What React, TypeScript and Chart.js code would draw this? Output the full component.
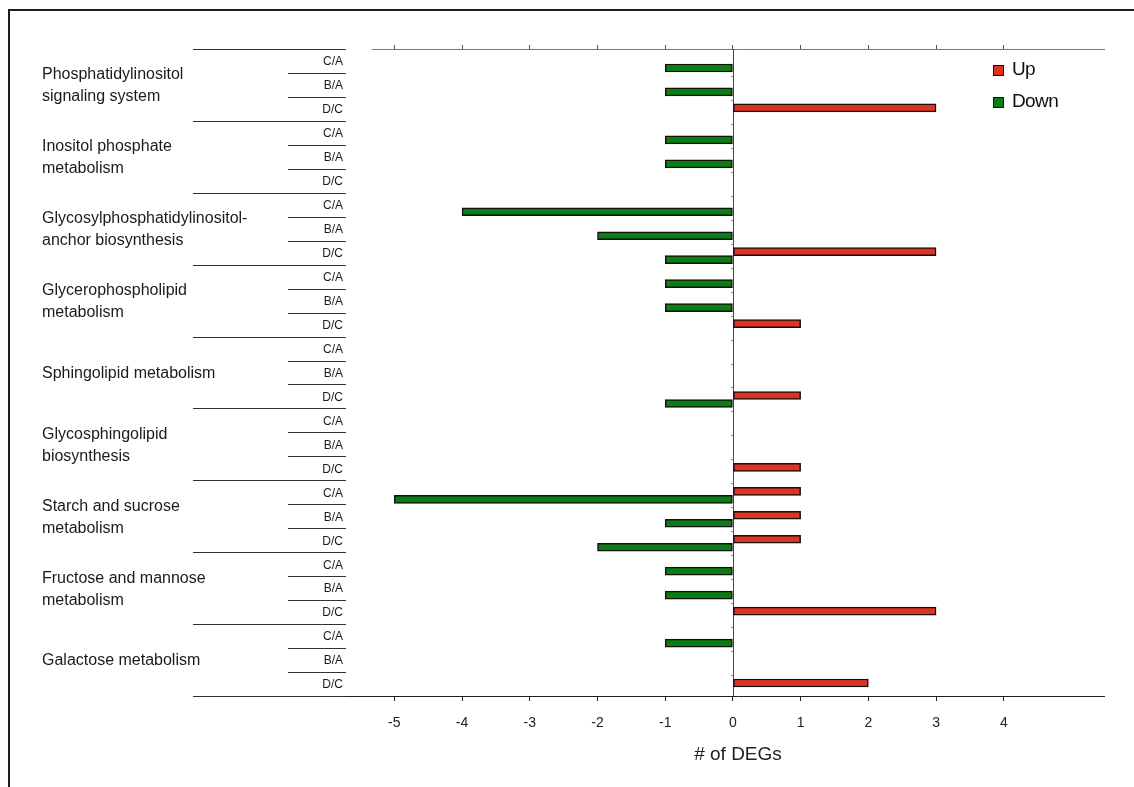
import { useEffect, useRef } from 'react';
import { Chart, registerables } from 'chart.js';

Chart.register(...registerables);

const pathways: string[][] = [
  ['Phosphatidylinositol', 'signaling system'],
  ['Inositol phosphate', 'metabolism'],
  ['Glycosylphosphatidylinositol-', 'anchor biosynthesis'],
  ['Glycerophospholipid', 'metabolism'],
  ['Sphingolipid metabolism'],
  ['Glycosphingolipid', 'biosynthesis'],
  ['Starch and sucrose', 'metabolism'],
  ['Fructose and mannose', 'metabolism'],
  ['Galactose metabolism'],
];
const comparisons = ['C/A', 'B/A', 'D/C'];
const upValues = [0, 0, 3, 0, 0, 0, 0, 0, 3, 0, 0, 1, 0, 0, 1, 0, 0, 1, 1, 1, 1, 0, 0, 3, 0, 0, 2];
const downValues = [-1, -1, 0, -1, -1, 0, -4, -2, -1, -1, -1, 0, 0, 0, -1, 0, 0, 0, -5, -1, -2, -1, -1, 0, -1, 0, 0];
const xTicks = [-5, -4, -3, -2, -1, 0, 1, 2, 3, 4];
const legendItems = ['Up', 'Down'];

const X_MIN = -5.33;
const X_MAX = 5.48;
const FONT = "'Liberation Sans', Arial, sans-serif";
const RED = '#e2311f';
const GREEN = '#0a7e12';
const BAR_SHIFT = 3;

const rowLabels = pathways.flatMap((_, gi) => comparisons.map((c) => `${gi}|${c}`));

const decorPlugin = {
  id: 'decor',
  beforeDatasetsDraw(chart: any) {
    const { ctx, chartArea, scales } = chart;
    const x0 = scales.x.getPixelForValue(0);
    const n = rowLabels.length;
    const step = (chartArea.bottom - chartArea.top) / n;
    ctx.save();
    ctx.strokeStyle = '#444';
    ctx.lineWidth = 1;
    ctx.beginPath();
    ctx.moveTo(Math.round(x0) + 0.5, chartArea.top);
    ctx.lineTo(Math.round(x0) + 0.5, chartArea.bottom);
    ctx.stroke();
    ctx.strokeStyle = '#888';
    for (let i = 1; i < n; i++) {
      const yy = Math.round(chartArea.top + i * step + BAR_SHIFT) + 0.5;
      ctx.beginPath();
      ctx.moveTo(Math.round(x0) - 2, yy);
      ctx.lineTo(Math.round(x0) + 0.5, yy);
      ctx.stroke();
    }
    ctx.restore();
    ctx.save();
    ctx.translate(0, BAR_SHIFT);
  },
  afterDatasetsDraw(chart: any) {
    chart.ctx.restore();
  },
  afterDraw(chart: any) {
    const { ctx, chartArea, scales } = chart;
    const yScale = scales.y;
    const n = rowLabels.length;
    const step = (chartArea.bottom - chartArea.top) / n;
    ctx.save();
    // frame
    ctx.fillStyle = '#1e1e1e';
    ctx.fillRect(8, 9, 2, chart.height - 9);
    ctx.fillRect(8, 9, chart.width - 8, 2);

    // row separator lines
    ctx.strokeStyle = '#333';
    ctx.lineWidth = 1.2;
    for (let i = 0; i <= n; i++) {
      const yy = Math.round(chartArea.top + i * step) + 0.5;
      const isGroup = i % 3 === 0;
      ctx.beginPath();
      ctx.moveTo(isGroup ? 193 : 288, yy);
      ctx.lineTo(346, yy);
      ctx.stroke();
    }
    // bottom axis extension
    const by = Math.round(chartArea.bottom) + 0.5;
    ctx.strokeStyle = '#222';
    ctx.lineWidth = 1;
    ctx.beginPath();
    ctx.moveTo(346, by);
    ctx.lineTo(chartArea.left, by);
    ctx.stroke();

    ctx.fillStyle = '#1a1a1a';
    ctx.font = `12px ${FONT}`;
    ctx.textAlign = 'right';
    ctx.textBaseline = 'middle';
    rowLabels.forEach((lab, i) => {
      const yc = yScale.getPixelForValue(i);
      ctx.fillText(lab.split('|')[1], 343, yc + 1);
    });

    ctx.font = `16px ${FONT}`;
    ctx.textAlign = 'left';
    pathways.forEach((lines, gi) => {
      const yc = yScale.getPixelForValue(gi * 3 + 1);
      const lh = 22;
      lines.forEach((t, li) => {
        const yy = yc + (li - (lines.length - 1) / 2) * lh + 1;
        ctx.fillText(t, 42, yy);
      });
    });

    // legend
    const colors = [RED, GREEN];
    legendItems.forEach((t, i) => {
      const cy = 70 + i * 32;
      ctx.fillStyle = colors[i];
      ctx.fillRect(993, cy - 5, 10, 10);
      ctx.strokeStyle = '#111';
      ctx.lineWidth = 1;
      ctx.strokeRect(993.5, cy - 4.5, 10, 10);
      ctx.fillStyle = '#111';
      ctx.font = `19px ${FONT}`;
      (ctx as any).letterSpacing = '-0.6px';
      ctx.textAlign = 'left';
      ctx.textBaseline = 'middle';
      ctx.fillText(t, 1012, cy);
      (ctx as any).letterSpacing = '0px';
    });
    ctx.restore();
  },
};

export default function App() {
  const ref = useRef<HTMLCanvasElement>(null);
  useEffect(() => {
    document.body.style.margin = '0';
    const setTicks = (s: any) => {
      s.ticks = xTicks.map((v) => ({ value: v }));
    };
    const chart = new Chart(ref.current as HTMLCanvasElement, {
      type: 'bar',
      data: {
        labels: rowLabels,
        datasets: [
          {
            label: legendItems[0],
            data: upValues.map((v) => (v === 0 ? null : v)),
            backgroundColor: RED,
            borderColor: '#111',
            borderWidth: 1.5,
            borderSkipped: false,
            barThickness: 8,
            xAxisID: 'x',
          },
          {
            label: legendItems[1],
            data: downValues.map((v) => (v === 0 ? null : v)),
            backgroundColor: GREEN,
            borderColor: '#111',
            borderWidth: 1.5,
            borderSkipped: false,
            barThickness: 8,
            xAxisID: 'x',
          },
        ],
      },
      options: {
        animation: false,
        responsive: false,
        maintainAspectRatio: false,
        indexAxis: 'y',
        layout: { padding: { left: 372, right: 30, top: 39, bottom: 0 } },
        plugins: { legend: { display: false }, tooltip: { enabled: false } },
        scales: {
          y: { type: 'category', display: false, offset: true, grid: { display: false } },
          x: {
            type: 'linear',
            position: 'bottom',
            min: X_MIN,
            max: X_MAX,
            afterBuildTicks: setTicks,
            afterFit: (s: any) => {
              s.height = 91;
            },
            grid: { drawOnChartArea: false, tickLength: 5, color: '#222', lineWidth: 1 },
            border: { color: '#222', width: 1 },
            ticks: { font: { family: FONT, size: 14 }, color: '#222', padding: 14, autoSkip: false, maxRotation: 0 },
            title: {
              display: true,
              text: '# of DEGs',
              font: { family: FONT, size: 19 },
              color: '#222',
              padding: { top: 0, bottom: 21 },
            },
          },
          x2: {
            type: 'linear',
            position: 'top',
            min: X_MIN,
            max: X_MAX,
            afterBuildTicks: setTicks,
            afterFit: (s: any) => {
              s.height = 10;
            },
            grid: { drawOnChartArea: false, tickLength: 4, color: '#555', lineWidth: 1 },
            border: { color: '#777', width: 1 },
            ticks: { display: false },
          },
        },
      } as any,
      plugins: [decorPlugin],
    });
    return () => chart.destroy();
  }, []);
  return (
    <div style={{ position: 'absolute', left: 0, top: 0, width: 1134, height: 787, background: '#fff' }}>
      <canvas ref={ref} width={1134} height={787} style={{ display: 'block' }} />
    </div>
  );
}
